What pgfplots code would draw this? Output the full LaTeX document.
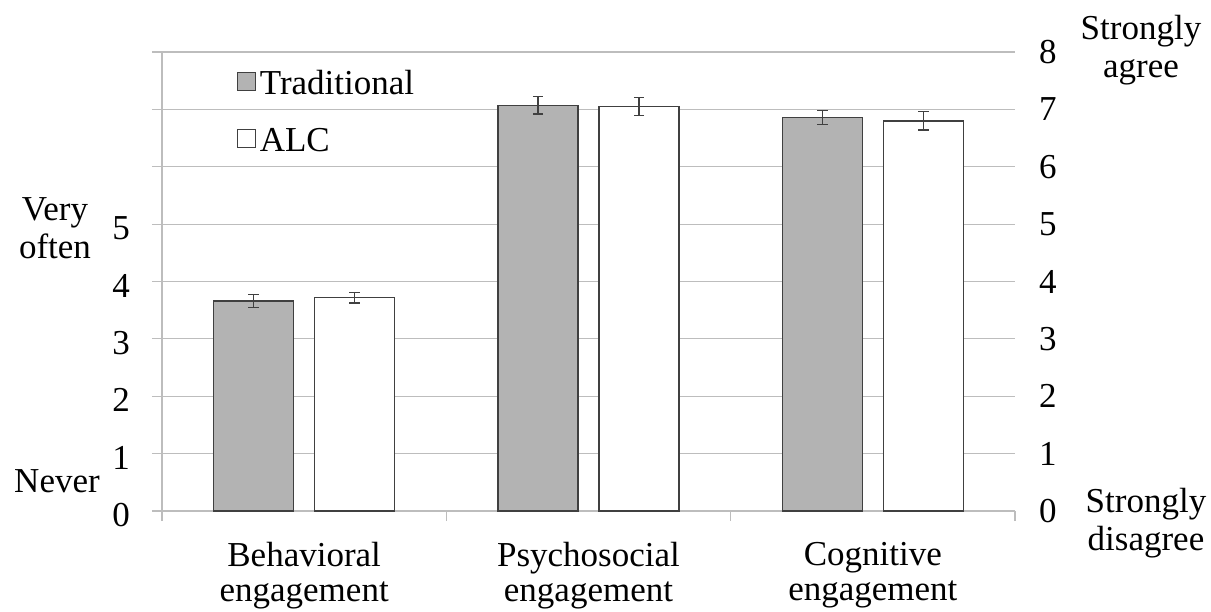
\documentclass[border=0pt]{standalone}
\usepackage{fontspec}
\setmainfont{Liberation Serif}
\usepackage{pgfplots}
\pgfplotsset{compat=1.18}

\definecolor{gridgray}{HTML}{BDBDBD}
\definecolor{bargray}{HTML}{B3B3B3}
\definecolor{edge}{HTML}{404040}

% one reference pixel = 0.5pt
\pgfplotsset{
  engaxis/.style={
    at={(81pt,50pt)}, anchor=south west,
    scale only axis, width=426.5pt, height=229.5pt,
    xmin=-0.5, xmax=2.5, ymin=0, ymax=8,
    /pgf/number format/assume math mode=true,
  },
  sqlegend/.style={
    legend image code/.code={
      \draw[##1, line width=0.6pt] (-2pt,-2.5pt) rectangle (7pt,6.5pt);},
  },
}

\begin{document}
\fontsize{17.5}{19}\selectfont
\begin{tikzpicture}[x=0.5pt, y=0.5pt]

\begin{axis}[
  engaxis,
  axis x line*=bottom, axis y line*=left,
  axis line style={-, draw=gridgray, line width=0.6pt},
  ytick={0,...,8}, yticklabels={0,1,2,3,4,5,,,},
  ymajorgrids, grid style={gridgray, line width=0.6pt},
  tick align=outside, major tick length=5pt,
  tick style={gridgray, line width=0.6pt},
  yticklabel style={xshift=-5pt, yshift=-2pt},
  xtick={-0.5,0.5,1.5,2.5}, xticklabels={,,,},
  extra x ticks={0,1,2},
  extra x tick labels={Behavioral\\[-1.5pt]engagement, Psychosocial\\[-1.5pt]engagement, Cognitive\\[-1.5pt]engagement},
  extra x tick style={major tick length=0pt, grid=none,
    xticklabel style={align=center, yshift=-9.5pt}},
  ybar=10.5pt, bar width=40pt,
  legend style={at={(0.08,0.978)}, anchor=north west, draw=none, fill=none,
    row sep=10pt, legend cell align=left},
]
\addplot[sqlegend, fill=bargray, draw=edge, line width=0.75pt,
  error bars/.cd, y dir=both, y explicit,
  error bar style={edge, line width=0.6pt},
  error mark options={rotate=90, mark size=2.6pt, edge, line width=0.6pt}]
  coordinates {
    (0,3.66) +- (0,0.12)
    (1,7.07) +- (0,0.15)
    (2,6.86) +- (0,0.12)
  };
\addlegendentry{Traditional}
\addplot[sqlegend, fill=white, draw=edge, line width=0.75pt,
  error bars/.cd, y dir=both, y explicit,
  error bar style={edge, line width=0.6pt},
  error mark options={rotate=90, mark size=2.6pt, edge, line width=0.6pt}]
  coordinates {
    (0,3.72) +- (0,0.095)
    (1,7.05) +- (0,0.16)
    (2,6.80) +- (0,0.16)
  };
\addlegendentry{ALC}
\end{axis}

% right-hand scale, 0 to 8 (labels only, no line)
\begin{axis}[
  engaxis,
  hide x axis, axis y line*=right,
  y axis line style={draw=none},
  ytick={0,...,8}, major tick length=0pt,
  ytick style={draw=none},
  yticklabel style={xshift=6pt},
]
\end{axis}

\node[align=center] at (55,383) {Very\\often};
\node at (57,130) {Never};
\node[align=center] at (1141,561) {Strongly\\agree};
\node[align=center] at (1146,88) {Strongly\\disagree};

\pgfresetboundingbox
\useasboundingbox (0,0) rectangle (1211,611);
\end{tikzpicture}
\end{document}
